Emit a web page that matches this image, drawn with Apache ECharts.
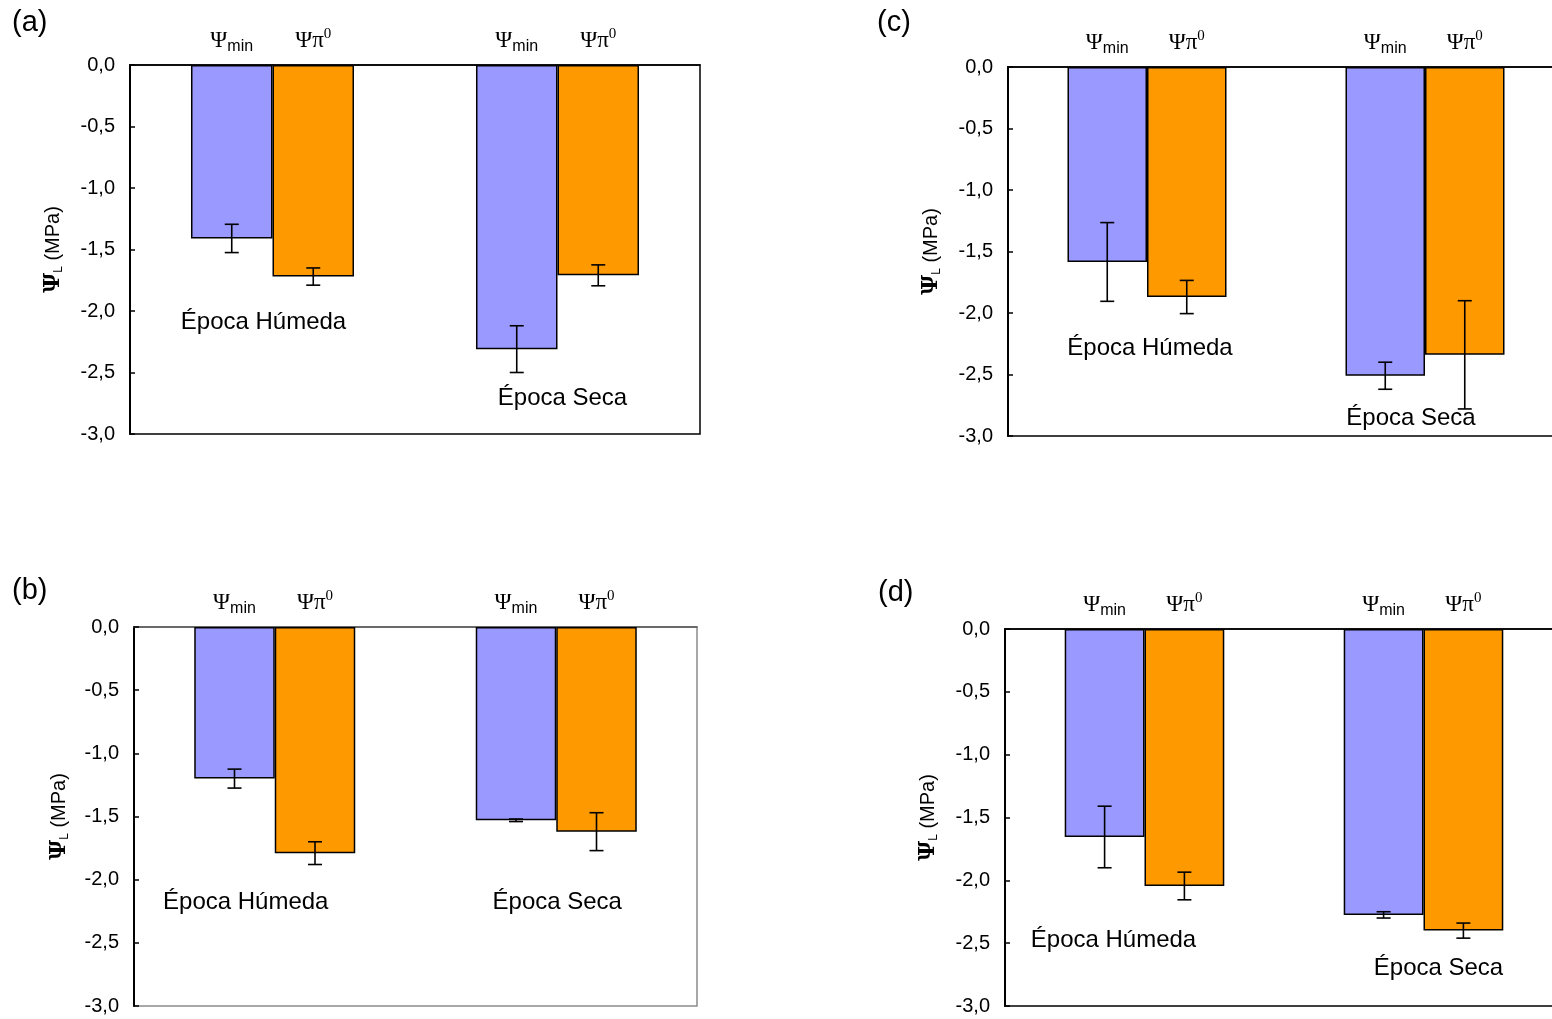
<!DOCTYPE html>
<html>
<head>
<meta charset="utf-8">
<script src="https://cdn.jsdelivr.net/npm/echarts@6/dist/echarts.min.js"></script>
<style>
html, body { margin: 0; padding: 0; background: #fff; overflow: hidden; }
#main { width: 1580px; height: 1019px; }
</style>
</head>
<body>
<div id="main"></div>
<script>
// categories (each panel: wet season / dry season)
var categories = ['Época Húmeda', 'Época Seca'];

// (a)
var minA = [-1.41, -2.31], minErrA = [0.115, 0.19];
var piA = [-1.72, -1.71], piErrA = [0.07, 0.085];
// (b)
var minB = [-1.20, -1.53], minErrB = [0.075, 0.01];
var piB = [-1.79, -1.62], piErrB = [0.09, 0.15];
// (c)
var minC = [-1.585, -2.51], minErrC = [0.32, 0.11];
var piC = [-1.87, -2.34], piErrC = [0.135, 0.44];
// (d)
var minD = [-1.655, -2.275], minErrD = [0.245, 0.025];
var piD = [-2.045, -2.40], piErrD = [0.11, 0.06];

var yMin = -3, yMax = 0, yStep = 0.5;

var BAR_FRAC = 0.286;
var SANS = 'Liberation Sans, Arial, sans-serif';
var SERIF = 'Liberation Serif, Times New Roman, serif';

// panel layout: grid box, tag position, note positions (px offset from category centre, y value)
var panels = [
  { tag: '(a)', tagPos: [12, 8], grid: { left: 130, top: 65, width: 570, height: 369 },
    min: minA, minErr: minErrA, pi: piA, piErr: piErrA, frame: '#000', gap: 65,
    notes: [[-9, -2.09], [5, -2.71]] },
  { tag: '(c)', tagPos: [877, 8], grid: { left: 1008, top: 67, width: 556, height: 369 },
    min: minC, minErr: minErrC, pi: piC, piErr: piErrC, frame: '#000', gap: 65,
    notes: [[3, -2.29], [-14, -2.86]] },
  { tag: '(b)', tagPos: [12, 576], grid: { left: 134, top: 627, width: 563, height: 379 },
    min: minB, minErr: minErrB, pi: piB, piErr: piErrB, frame: '#8c8c8c', gap: 63,
    notes: [[-29, -2.18], [1, -2.18]] },
  { tag: '(d)', tagPos: [878, 578], grid: { left: 1005, top: 629, width: 558, height: 377 },
    min: minD, minErr: minErrD, pi: piD, piErr: piErrD, frame: '#000', gap: 65,
    notes: [[-31, -2.48], [15, -2.70]] }
];

function fmt(v) {
  return v.toFixed(1).replace('.', ',');
}

function errSeries(i, vals, errs, side) {
  return {
    type: 'custom',
    xAxisIndex: i, yAxisIndex: i, z: 5, clip: false,
    data: vals.map(function (v, k) { return [k, v, errs[k]]; }),
    renderItem: function (params, api) {
      var c = api.value(0), v = api.value(1), e = api.value(2);
      var off = api.size([1, 0])[0] * BAR_FRAC / 2 * side;
      var a = api.coord([c, v + e]), b = api.coord([c, v - e]);
      var x = a[0] + off, cap = 7;
      var st = { stroke: '#000', lineWidth: 1.6 };
      return { type: 'group', children: [
        { type: 'line', shape: { x1: x, y1: a[1], x2: x, y2: b[1] }, style: st },
        { type: 'line', shape: { x1: x - cap, y1: a[1], x2: x + cap, y2: a[1] }, style: st },
        { type: 'line', shape: { x1: x - cap, y1: b[1], x2: x + cap, y2: b[1] }, style: st }
      ] };
    }
  };
}

var option = { animation: false, title: [], grid: [], xAxis: [], yAxis: [], series: [] };

panels.forEach(function (p, i) {
  option.title.push({
    text: p.tag, left: p.tagPos[0], top: p.tagPos[1], padding: 0,
    textStyle: { fontFamily: SANS, fontSize: 29, fontWeight: 'normal', color: '#000' }
  });
  option.grid.push(Object.assign({ show: true, borderColor: p.frame, borderWidth: 1.5, backgroundColor: '#fff' }, p.grid));
  option.xAxis.push({
    type: 'category', gridIndex: i, data: categories, position: 'top',
    axisLine: { lineStyle: { color: p.frame === '#000' ? '#000' : '#555', width: 1.5 } },
    axisTick: { show: false }, axisLabel: { show: false }, splitLine: { show: false }
  });
  option.yAxis.push({
    type: 'value', gridIndex: i, min: yMin, max: yMax, interval: yStep,
    name: '{p|Ψ}{s|L} (MPa)', nameLocation: 'middle', nameRotate: 90, nameGap: p.gap,
    nameTextStyle: {
      fontFamily: SANS, fontSize: 20, color: '#000',
      rich: {
        p: { fontFamily: 'DejaVu Serif', fontSize: 22, fontWeight: 'bold', color: '#000' },
        s: { fontFamily: SANS, fontSize: 12, color: '#000', verticalAlign: 'bottom', padding: [12, 0, 0, 0] }
      }
    },
    axisLine: { show: true, lineStyle: { color: '#000', width: 2 } },
    axisTick: { show: true, inside: true, length: 5, lineStyle: { color: '#000', width: 1.5 } },
    axisLabel: { fontFamily: SANS, fontSize: 20, color: '#000', margin: 15, formatter: fmt },
    splitLine: { show: false }
  });
  option.series.push({
    type: 'bar', xAxisIndex: i, yAxisIndex: i, data: p.min,
    barWidth: (BAR_FRAC * 100) + '%', barGap: '0%',
    itemStyle: { color: '#9999ff', borderColor: '#000', borderWidth: 1.5 }
  });
  option.series.push({
    type: 'bar', xAxisIndex: i, yAxisIndex: i, data: p.pi,
    barWidth: (BAR_FRAC * 100) + '%', barGap: '0%',
    itemStyle: { color: '#ff9900', borderColor: '#000', borderWidth: 1.5 }
  });
  option.series.push(errSeries(i, p.min, p.minErr, -1));
  option.series.push(errSeries(i, p.pi, p.piErr, 1));
  // headers above each bar
  option.series.push({
    type: 'custom', xAxisIndex: i, yAxisIndex: i, z: 6, clip: false,
    data: [[0, 0], [1, 0]],
    renderItem: function (params, api) {
      var c = api.coord([api.value(0), 0]);
      var off = api.size([1, 0])[0] * BAR_FRAC / 2;
      var y = c[1] - 10;
      return { type: 'group', children: [
        { type: 'text', x: c[0] - off, y: y, style: {
            text: '{g|Ψ}{m|min}', align: 'center', verticalAlign: 'bottom',
            rich: {
              g: { fontFamily: SERIF, fontSize: 23, lineHeight: 28, fill: '#000' },
              m: { fontFamily: SANS, fontSize: 16, lineHeight: 28, verticalAlign: 'bottom', padding: [9, 0, 0, 0], fill: '#000' }
            } } },
        { type: 'text', x: c[0] + off, y: y, style: {
            text: '{g|Ψπ}{s|0}', align: 'center', verticalAlign: 'bottom',
            rich: {
              g: { fontFamily: SERIF, fontSize: 23, lineHeight: 28, fill: '#000' },
              s: { fontFamily: SERIF, fontSize: 15, lineHeight: 28, verticalAlign: 'top', padding: [0, 0, 9, 0], fill: '#000' }
            } } }
      ] };
    }
  });
  // season notes
  option.series.push({
    type: 'custom', xAxisIndex: i, yAxisIndex: i, z: 6, clip: false,
    data: [[0, p.notes[0][1]], [1, p.notes[1][1]]],
    renderItem: function (params, api) {
      var k = params.dataIndex;
      var c = api.coord([api.value(0), api.value(1)]);
      return { type: 'text', x: c[0] + p.notes[k][0], y: c[1], style: {
        text: categories[k], align: 'center', verticalAlign: 'middle',
        fontFamily: SANS, fontSize: 24, fill: '#000' } };
    }
  });
});

var chart = echarts.init(document.getElementById('main'));
chart.setOption(option);
</script>
</body>
</html>
